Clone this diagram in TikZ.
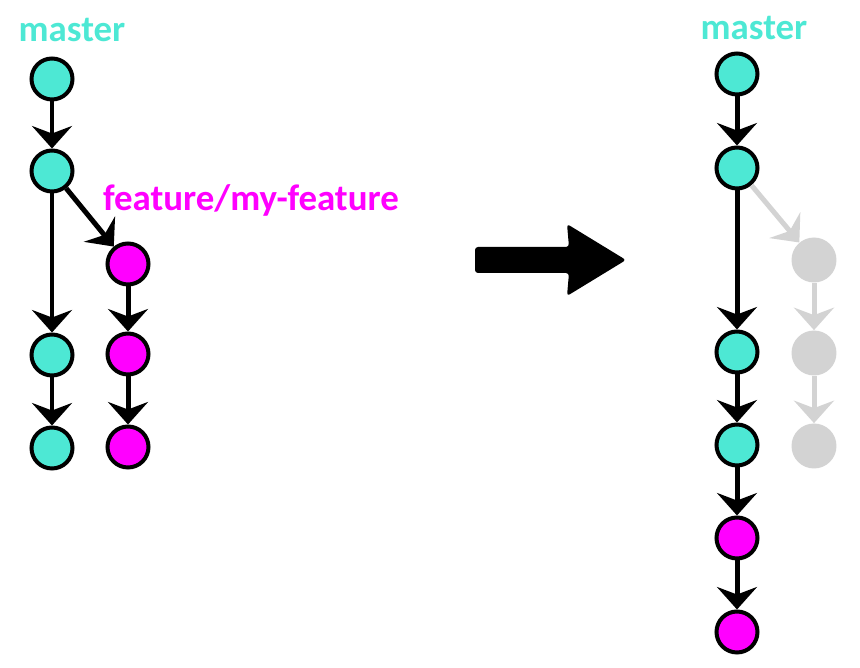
\documentclass[tikz,border=0pt]{standalone}
\usepackage{fontspec}
\setmainfont{Carlito}
\usepackage{tikz}
\usetikzlibrary{arrows.meta,positioning}
\definecolor{mastercol}{RGB}{77,232,212}
\definecolor{featurecol}{RGB}{255,0,255}
\definecolor{ghostcol}{RGB}{211,211,211}
\tikzset{%
	commit/.style  = {draw, circle, line width=0.08cm, minimum size=0.82cm, inner sep=0pt},
	mcommit/.style = {commit, fill=mastercol},
	fcommit/.style = {commit, fill=featurecol},
	gcommit/.style = {circle, fill=ghostcol, minimum size=0.9cm, inner sep=0pt},
	arrow/.style   = {line width=0.1cm, -{Stealth[length=0.45cm, width=0.8cm, inset=0.15cm]}},
	garrow/.style  = {arrow, draw=ghostcol},
	branch/.style  = {font=\fontsize{21}{25}\selectfont\bfseries},
}
\begin{document}
\begin{tikzpicture}[x=0.02cm, y=-0.02cm]
		\useasboundingbox (0,0) rectangle (860,668);
		% before
		\node[branch, text=mastercol] (mlabel) at (72,30) {master};
		\node[mcommit] (a1) at (52,79) {};
		\node[mcommit] (a2) at (52,171) {};
		\node[mcommit] (a3) at (52,355) {};
		\node[mcommit] (a4) at (52,448) {};
		\node[branch, text=featurecol] (flabel) at (251,200) {feature/my-feature};
		\node[fcommit] (b1) at (128,264) {};
		\node[fcommit] (b2) at (128,354) {};
		\node[fcommit] (b3) at (128,447) {};
		\draw[arrow] (a1) -- (a2);
		\draw[arrow] (a2) -- (a3);
		\draw[arrow] (a3) -- (a4);
		\draw[arrow] (a2) -- (b1);
		\draw[arrow] (b1) -- (b2);
		\draw[arrow] (b2) -- (b3);
		
		% big arrow
		\fill[rounded corners=0.06cm] (475,247) -- (569,247) -- (567,224) -- (626,260) -- (567,296) -- (569,273) -- (475,273) -- cycle;
		
		% after
		\node[branch, text=mastercol] (rlabel) at (754,28) {master};
		\node[gcommit] (g1) at (814,260) {};
		\node[gcommit] (g2) at (814,353) {};
		\node[gcommit] (g3) at (814,446) {};
		\node[mcommit] (c1) at (737,74) {};
		\node[mcommit] (c2) at (737,168) {};
		\node[mcommit] (c3) at (737,352) {};
		\node[mcommit] (c4) at (737,445) {};
		\node[fcommit] (c5) at (737,538) {};
		\node[fcommit] (c6) at (737,632) {};
		\draw[garrow] (c2) -- (g1);
		\draw[garrow] (g1) -- (g2);
		\draw[garrow] (g2) -- (g3);
		\draw[arrow] (c1) -- (c2);
		\draw[arrow] (c2) -- (c3);
		\draw[arrow] (c3) -- (c4);
		\draw[arrow] (c4) -- (c5);
		\draw[arrow] (c5) -- (c6);
\end{tikzpicture}
\end{document}
